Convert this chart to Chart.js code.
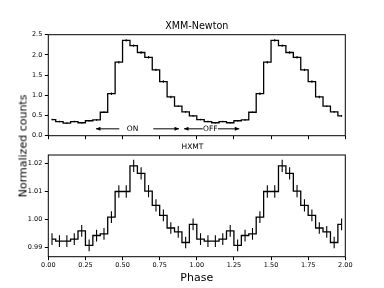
<!DOCTYPE html>
<html><head><meta charset="utf-8">
<script src="https://cdn.jsdelivr.net/npm/chart.js@4.4.1/dist/chart.umd.min.js"></script>
<style>
html,body{margin:0;padding:0;background:#fff;}
#wrap{position:relative;width:384px;height:288px;overflow:hidden;background:#fff;}
canvas{position:absolute;left:0;}
#c1{top:0;}
#c2{top:140px;}
.lbl{position:absolute;font-family:'DejaVu Sans';font-weight:normal;font-size:11px;color:#000;white-space:nowrap;line-height:1;}
#ylab{left:22.9px;top:146px;transform:translate(-50%,-50%) rotate(-90deg);}
#xlab{left:196.8px;top:276.9px;transform:translate(-50%,-50%);}
#t1{left:196.8px;top:26px;font-size:9.6px;transform:translate(-50%,-50%);}
#t2{left:192.5px;top:147.3px;font-size:7.5px;transform:translate(-50%,-50%);}
</style></head><body>
<div id="wrap">
<canvas id="c1" width="384" height="145"></canvas>
<canvas id="c2" width="384" height="148"></canvas>
<div class="lbl" id="t1">XMM-Newton</div>
<div class="lbl" id="t2">HXMT</div>
<div class="lbl" id="ylab">Normalized counts</div>
<div class="lbl" id="xlab">Phase</div>
</div>
<script>
// ---- data ----
const phase = [0.025,0.075,0.125,0.175,0.225,0.275,0.325,0.375,0.425,0.475,
               0.525,0.575,0.625,0.675,0.725,0.775,0.825,0.875,0.925,0.975,
               1.025,1.075,1.125,1.175,1.225,1.275,1.325,1.375,1.425,1.475,
               1.525,1.575,1.625,1.675,1.725,1.775,1.825,1.875,1.925,1.975];
const xmmCounts = [0.40,0.35,0.31,0.35,0.32,0.37,0.39,0.58,1.04,1.82,
                   2.36,2.23,2.06,1.94,1.63,1.34,0.96,0.73,0.59,0.49,
                   0.40,0.35,0.32,0.35,0.32,0.37,0.39,0.58,1.04,1.82,
                   2.36,2.23,2.06,1.94,1.63,1.34,0.96,0.73,0.59,0.49];
const xmmErr = [0.02,0.02,0.02,0.02,0.02,0.02,0.02,0.02,0.03,0.03,
                0.03,0.03,0.03,0.03,0.03,0.03,0.03,0.02,0.02,0.02,
                0.02,0.02,0.02,0.02,0.02,0.02,0.02,0.02,0.03,0.03,
                0.03,0.03,0.03,0.03,0.03,0.03,0.03,0.02,0.02,0.02];
const hxmtCounts = [0.9929,0.9922,0.9922,0.9929,0.9959,0.9907,0.9942,0.9948,1.0008,1.0100,
                    1.0100,1.0192,1.0165,1.0101,1.0050,1.0014,0.9969,0.9955,0.9917,0.9982,
                    0.9929,0.9922,0.9922,0.9929,0.9959,0.9907,0.9942,0.9948,1.0008,1.0100,
                    1.0100,1.0192,1.0165,1.0101,1.0050,1.0014,0.9969,0.9955,0.9917,0.9982];
const hxmtErr = [0.0021,0.0021,0.0021,0.0021,0.0021,0.0021,0.0021,0.0021,0.0021,0.0022,
                 0.0022,0.0022,0.0022,0.0022,0.0022,0.0021,0.0021,0.0021,0.0021,0.0021,
                 0.0021,0.0021,0.0021,0.0021,0.0021,0.0021,0.0021,0.0021,0.0021,0.0022,
                 0.0022,0.0022,0.0022,0.0022,0.0022,0.0021,0.0021,0.0021,0.0021,0.0021];
const xTicks = [0,0.25,0.5,0.75,1,1.25,1.5,1.75,2];
const xTickLabels = ['0.00','0.25','0.50','0.75','1.00','1.25','1.50','1.75','2.00'];
const xmmYTicks = [0,0.5,1,1.5,2,2.5];
const xmmYTickLabels = ['0.0','0.5','1.0','1.5','2.0','2.5'];
const hxmtYTicks = [0.99,1.00,1.01,1.02];
const hxmtYTickLabels = ['0.99','1.00','1.01','1.02'];
const annLabels = ['ON','OFF'];
const annTextX = [0.567,1.091];
const annY = 0.17;
const arrowStart = [0.478,0.707,1.040,1.142];
const arrowEnd = [0.321,0.880,0.914,1.286];

// ---- helpers ----
const FONT = 'DejaVu Sans';
Chart.defaults.font.family = FONT;
Chart.defaults.color = '#000';

function stepData(vals){ return phase.map((x,i)=>({x:x,y:vals[i]})); }
function errData(vals,errs){
  const out=[];
  phase.forEach((x,i)=>{ out.push({x:x,y:vals[i]-errs[i]}); out.push({x:x,y:vals[i]+errs[i]}); out.push({x:x,y:null}); });
  return out;
}
const boxPlugin = {
  id:'box',
  afterDraw(chart){
    const a=chart.chartArea, ctx=chart.ctx;
    ctx.save(); ctx.strokeStyle='#000'; ctx.lineWidth=1;
    ctx.strokeRect(a.left,a.top,a.right-a.left,a.bottom-a.top);
    ctx.restore();
  }
};
const annPlugin = {
  id:'ann',
  afterDatasetsDraw(chart){
    const xs=chart.scales.x, ys=chart.scales.y, ctx=chart.ctx;
    const py=ys.getPixelForValue(annY);
    ctx.save();
    ctx.strokeStyle='#000'; ctx.fillStyle='#000'; ctx.lineWidth=1;
    arrowStart.forEach((s,i)=>{
      const x0=xs.getPixelForValue(s), x1=xs.getPixelForValue(arrowEnd[i]);
      const dir=Math.sign(x1-x0);
      ctx.beginPath(); ctx.moveTo(x0,py); ctx.lineTo(x1,py); ctx.stroke();
      ctx.beginPath(); ctx.moveTo(x1,py); ctx.lineTo(x1-dir*4.5,py-2); ctx.lineTo(x1-dir*4.5,py+2); ctx.closePath(); ctx.fill();
    });
    ctx.font='7.5px "'+FONT+'"'; ctx.textAlign='center'; ctx.textBaseline='middle';
    annLabels.forEach((t,i)=>{ ctx.fillText(t, xs.getPixelForValue(annTextX[i]), py); });
    ctx.restore();
  }
};
function xScale(showLabels, h){
  return {
    type:'linear', min:0, max:2,
    afterBuildTicks(s){ s.ticks = xTicks.map(v=>({value:v})); },
    afterFit(s){ s.height = h; },
    grid:{display:true, drawOnChartArea:false, drawTicks:true, tickLength:3.5, color:'#000', lineWidth:1},
    border:{display:false},
    ticks:{display:showLabels, padding:1.5, maxRotation:0, autoSkip:false, font:{size:6.5}, color:'#000',
           callback:(v,i)=>xTickLabels[i]}
  };
}
function yScale(min,max,ticks,labels){
  return {
    type:'linear', min:min, max:max,
    afterBuildTicks(s){ s.ticks = ticks.map(v=>({value:v})); },
    afterFit(s){ s.width = 48.3; },
    grid:{display:true, drawOnChartArea:false, drawTicks:true, tickLength:3.5, color:'#000', lineWidth:1},
    border:{display:false},
    ticks:{padding:2.5, autoSkip:false, font:{size:6.5}, color:'#000', callback:(v,i)=>labels[i]}
  };
}
function datasets(vals,errs){
  return [
    {data:stepData(vals), stepped:'middle', borderColor:'#000', borderWidth:1.3, pointRadius:0, fill:false},
    {data:errData(vals,errs), borderColor:'#000', borderWidth:1.1, pointRadius:0, spanGaps:false, fill:false}
  ];
}
const common = {
  responsive:false, animation:false, devicePixelRatio:1,
  events:[],
};

new Chart(document.getElementById('c1'), {
  type:'line',
  data:{datasets:datasets(xmmCounts,xmmErr)},
  options:Object.assign({}, common, {
    layout:{padding:{left:0,right:38.7,top:34.7,bottom:0}},
    plugins:{legend:{display:false}, tooltip:{enabled:false}},
    scales:{x:xScale(false,9.3), y:yScale(0,2.5,xmmYTicks,xmmYTickLabels)}
  }),
  plugins:[boxPlugin, annPlugin]
});

new Chart(document.getElementById('c2'), {
  type:'line',
  data:{datasets:datasets(hxmtCounts,hxmtErr)},
  options:Object.assign({}, common, {
    layout:{padding:{left:0,right:38.7,top:15,bottom:0}},
    plugins:{legend:{display:false}, tooltip:{enabled:false}},
    scales:{x:xScale(true,31.3), y:yScale(0.9866,1.0231,hxmtYTicks,hxmtYTickLabels)}
  }),
  plugins:[boxPlugin]
});
</script>
</body></html>
